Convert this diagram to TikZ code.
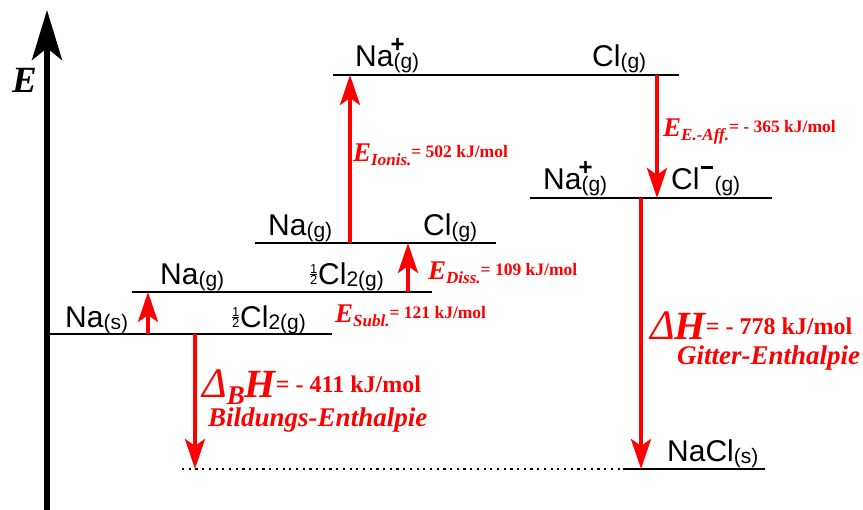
\documentclass[tikz,border=0pt]{standalone}
\usepackage{fontspec}
\setmainfont{Liberation Serif}
\newfontfamily\sansf{Liberation Sans}
\usetikzlibrary{arrows.meta}
\definecolor{myred}{RGB}{255,0,0}
\newcommand{\fs}[1]{\fontsize{#1}{#1}\selectfont}
\newcommand{\gsub}[1]{\raisebox{-2pt}{\fs{21}#1}}
\newcommand{\halfx}{\makebox[9pt][c]{\rlap{\raisebox{11.5pt}{\fs{13}1}}\rlap{\raisebox{10.2pt}{\rule{7pt}{0.8pt}}}\fs{13}2}}
\newcommand{\elab}[2]{{\fs{27}\bfseries\itshape E}\raisebox{-4pt}{\fs{17}\bfseries\itshape #1}\raisebox{4pt}{\fs{17.5}\bfseries #2}}
\newcommand{\dlab}[2]{{\fs{42}\mdseries\itshape Δ}#1{\fs{40}\bfseries\itshape H}\raisebox{5pt}{\fs{24}\bfseries #2}}
\begin{document}
\begin{tikzpicture}[x=1pt,y=-1pt,
  lvl/.style={line width=2pt,black},
  lbl/.style={font=\sansf\fs{30},anchor=base west,inner sep=0pt},
  rlbl/.style={text=myred,anchor=base west,inner sep=0pt},
  rarrow/.style={draw=myred,line width=4pt,-{Stealth[length=30pt,width=20pt,inset=7pt]}},
  axisarrow/.style={line width=6pt,-{Stealth[length=50pt,width=30pt,inset=12pt]}}]
\useasboundingbox (0,0) rectangle (863,510);
% axis
\coordinate (axb) at (47,510);
\coordinate (axt) at (47,10);
\draw[axisarrow] (axb) -- (axt);
\node[anchor=base west,inner sep=0pt,font=\fs{37}\bfseries\itshape] (elab) at (12,93) {E};
% levels
\coordinate (l1a) at (48,334);  \coordinate (l1b) at (332,334);
\coordinate (l2a) at (132,292); \coordinate (l2b) at (432,292);
\coordinate (l3a) at (255,243); \coordinate (l3b) at (496,243);
\coordinate (l4a) at (333,75);  \coordinate (l4b) at (679,75);
\coordinate (l5a) at (530,198); \coordinate (l5b) at (772,198);
\coordinate (l6a) at (623,469); \coordinate (l6b) at (765,469);
\coordinate (dota) at (182,469);
\draw[lvl] (l1a) -- (l1b);
\draw[lvl] (l2a) -- (l2b);
\draw[lvl] (l3a) -- (l3b);
\draw[lvl] (l4a) -- (l4b);
\draw[lvl] (l5a) -- (l5b);
\draw[lvl] (l6a) -- (l6b);
\draw[line width=2.2pt,dash pattern=on 2.2pt off 4.5pt] (dota) -- (l6a);
% species labels
\node[lbl] (nas) at (65,328) {Na\gsub{(s)}};
\node[lbl] (cl1) at (231,328) {\halfx Cl\gsub{2(g)}};
\node[lbl] (nag1) at (160,285) {Na\gsub{(g)}};
\node[lbl] (cl2) at (309,285) {\halfx Cl\gsub{2(g)}};
\node[lbl] (nag2) at (268,236) {Na\gsub{(g)}};
\node[lbl] (clg1) at (423,236) {Cl\gsub{(g)}};
\node[lbl] (nap1) at (355,67) {Na\rlap{\kern-3pt\raisebox{14pt}{\bfseries\fs{24}+}}\gsub{(g)}};
\node[lbl] (clg2) at (592,67) {Cl\gsub{(g)}};
\node[lbl] (nap2) at (543,190) {Na\rlap{\kern-3pt\raisebox{14pt}{\bfseries\fs{24}+}}\gsub{(g)}};
\node[lbl] (clm) at (671,190) {Cl\rlap{\kern1pt\raisebox{21pt}{\rule{12pt}{3pt}}}\kern15pt\gsub{(g)}};
\node[lbl] (nacl) at (667,462) {NaCl\gsub{(s)}};
% arrow end points
\coordinate (sb) at (148,334); \coordinate (st) at (148,292);
\coordinate (db) at (408,292); \coordinate (dt) at (408,243);
\coordinate (ib) at (350,243); \coordinate (it) at (350,75);
\coordinate (at) at (657,75);  \coordinate (ab) at (657,198);
\coordinate (gt) at (641,198); \coordinate (gb) at (641,469);
\coordinate (bt) at (195,334); \coordinate (bb) at (195,469);
\draw[rarrow] (sb) -- (st);
\draw[rarrow] (db) -- (dt);
\draw[rarrow] (ib) -- (it);
\draw[rarrow] (at) -- (ab);
\draw[rarrow] (gt) -- (gb);
\draw[rarrow] (bt) -- (bb);
% energy labels
\node[rlbl] (lion) at (353,162) {\elab{Ionis.}{= 502 kJ/mol}};
\node[rlbl] (ldiss) at (428,280) {\elab{Diss.}{= 109 kJ/mol}};
\node[rlbl] (lsubl) at (335,323) {\elab{Subl.}{= 121 kJ/mol}};
\node[rlbl] (laff) at (663,137) {\elab{E.-Aff.}{= - 365 kJ/mol}};
\node[rlbl] (lbh) at (202,398) {\dlab{\raisebox{-7pt}{\fs{27}\bfseries\itshape B}}{= - 411 kJ/mol}};
\node[rlbl,font=\fs{27}\bfseries\itshape] (lbname) at (208,427) {Bildungs-Enthalpie};
\node[rlbl] (lgh) at (650,340) {\dlab{}{= - 778 kJ/mol}};
\node[rlbl,font=\fs{27}\bfseries\itshape] (lgname) at (677,365) {Gitter-Enthalpie};
\end{tikzpicture}
\end{document}
